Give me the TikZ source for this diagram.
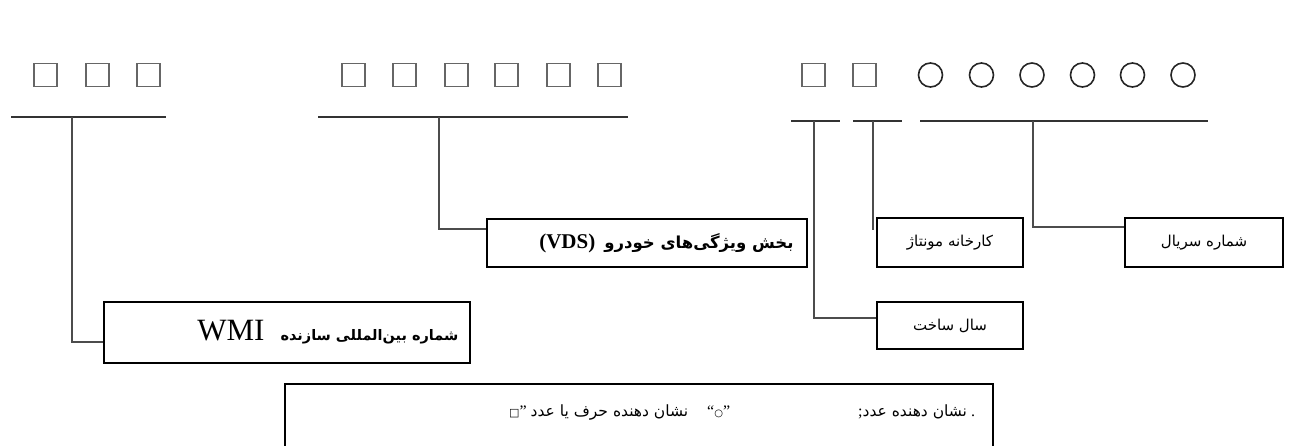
\documentclass[tikz,border=0pt]{standalone}
\usepackage{fontspec}
\setmainfont{Liberation Serif}
\newfontfamily\ar[Script=Arabic]{DejaVu Sans}
\newfontfamily\sym{DejaVu Sans}
\TeXXeTstate=1
\begin{document}
\begin{tikzpicture}[x=1bp,y=-1bp,
  sq/.style={draw=black!60, line width=1.1bp, rectangle, minimum size=23bp, inner sep=0pt},
  cir/.style={draw=black!85, circle, line width=1.6bp, minimum size=24bp, inner sep=0pt},
  bar/.style={draw=black!80, line width=1.6bp},
  conn/.style={draw=black!70, line width=1.5bp},
  box/.style={draw=black, line width=1.3bp, rectangle, inner sep=0pt},
  lbl/.style={inner sep=0pt, font=\ar\fontsize{15bp}{17bp}\selectfont},
  blbl/.style={inner sep=0pt, font=\ar\bfseries\fontsize{15.5bp}{17bp}\selectfont}
]
\useasboundingbox (0,0) rectangle (1293,446);
% squares and circles
\foreach \i/\x in {1/45.5,2/97.5,3/148.5}{\node[sq] (a\i) at (\x,75) {};}
\foreach \i/\x in {1/353.5,2/404.5,3/456.5,4/506.5,5/558.5,6/609.5}{\node[sq] (b\i) at (\x,75) {};}
\foreach \i/\x in {1/813.5,2/864.5}{\node[sq] (c\i) at (\x,75) {};}
\foreach \i/\x in {1/930.5,2/981.5,3/1032,4/1082.5,5/1132.5,6/1183}{\node[cir] (d\i) at (\x,75) {};}
% bars
\coordinate (La) at (11,117);  \coordinate (Lb) at (166,117);  \coordinate (Lt) at (72,117);
\coordinate (Ma) at (318,117); \coordinate (Mb) at (628,117);  \coordinate (Mt) at (439,117);
\coordinate (Ra) at (791,121); \coordinate (Rb) at (840,121);  \coordinate (Rt) at (814,121);
\coordinate (Sa) at (853,121); \coordinate (Sb) at (902,121);  \coordinate (St) at (873,121);
\coordinate (Ta) at (920,121); \coordinate (Tb) at (1208,121); \coordinate (Tt) at (1033,121);
\draw[bar] (La) -- (Lb);
\draw[bar] (Ma) -- (Mb);
\draw[bar] (Ra) -- (Rb);
\draw[bar] (Sa) -- (Sb);
\draw[bar] (Ta) -- (Tb);
% boxes
\node[box, minimum width=366bp, minimum height=61bp] (wmi) at (287,332.5) {};
\node[blbl, anchor=east, font=\ar\bfseries\fontsize{14.5bp}{17bp}\selectfont] (wmit) at ([xshift=-12bp]wmi.east)
  {\beginR شماره بین‌المللی سازنده\hspace{16bp}{\rmfamily\mdseries\fontsize{31bp}{33bp}\selectfont\beginL WMI\endL}\endR};
\node[box, minimum width=320bp, minimum height=48bp] (vds) at (647,243) {};
\node[blbl, anchor=east, font=\ar\bfseries\fontsize{16.5bp}{18bp}\selectfont] (vdst) at ([xshift=-14bp]vds.east)
  {\beginR بخش ویژگی‌های خودرو\hspace{9bp}{\rmfamily\bfseries\fontsize{21bp}{23bp}\selectfont\beginL(VDS)\endL}\endR};
\node[box, lbl, minimum width=146bp, minimum height=49bp] (kar) at (950,242.5) {\beginR کارخانه مونتاژ\endR};
\node[box, lbl, minimum width=158bp, minimum height=49bp] (ser) at (1204,242.5) {\beginR شماره سریال\endR};
\node[box, lbl, minimum width=146bp, minimum height=47bp] (sal) at (950,325.5) {\beginR سال ساخت\endR};
% connectors
\draw[conn] (Lt) |- ([yshift=-9.5bp]wmi.west);
\draw[conn] (Mt) |- ([yshift=14bp]vds.west);
\draw[conn] (Rt) |- ([yshift=7.5bp]sal.west);
\coordinate (Se) at (873,230);
\draw[conn] (St) -- (Se);
\draw[conn] (Tt) |- ([yshift=15.5bp]ser.west);
% bottom note
\coordinate (N1) at (285,447); \coordinate (N2) at (285,384);
\coordinate (N3) at (993,384); \coordinate (N4) at (993,447);
\draw[box] (N1) -- (N2) -- (N3) -- (N4);
\node[inner sep=0pt, anchor=west, font=\rmfamily\fontsize{16bp}{18bp}\selectfont] (note) at (509,413)
  {\beginL\makebox[198bp][l]{{\sym\fontsize{11bp}{13bp}\selectfont □}”\ {\ar\fontsize{15.5bp}{17bp}\selectfont\beginR نشان دهنده حرف یا عدد\endR}}%
   \makebox[151bp][l]{“{\sym\fontsize{10bp}{12bp}\selectfont ○}”}%
   ;{\ar\fontsize{15.5bp}{17bp}\selectfont\beginR نشان دهنده عدد\endR}\ .\endL};
\end{tikzpicture}
\end{document}
